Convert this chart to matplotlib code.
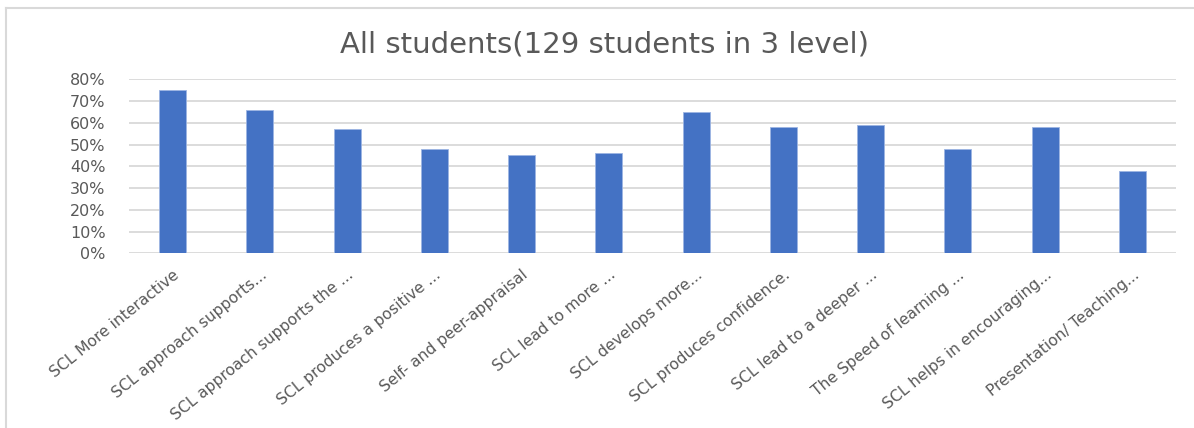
import numpy as np
import matplotlib
matplotlib.use('Agg')
import matplotlib.pyplot as plt
from matplotlib.ticker import PercentFormatter
from matplotlib.lines import Line2D

plt.rcParams['font.family'] = ['DejaVu Sans']

title = 'All students(129 students in 3 level)'

categories = [
    'SCL More interactive',
    'SCL approach supports...',
    'SCL approach supports the ...',
    'SCL produces a positive ...',
    'Self- and peer-appraisal',
    'SCL lead to more ...',
    'SCL develops more...',
    'SCL produces confidence.',
    'SCL lead to a deeper ...',
    'The Speed of learning ...',
    'SCL helps in encouraging...',
    'Presentation/ Teaching...',
]

# share of students
values = [0.75, 0.66, 0.57, 0.48, 0.45, 0.46, 0.65, 0.58, 0.59, 0.48, 0.58, 0.38]

yticks = [0, 0.1, 0.2, 0.3, 0.4, 0.5, 0.6, 0.7, 0.8]

BAR_COLOR = '#4472C4'
GRID_COLOR = '#d9d9d9'
TEXT_COLOR = '#595959'

W, H = 1194, 428
fig = plt.figure(figsize=(W / 100, H / 100), dpi=100)

# chart frame (top and left edges visible in the crop)
fig.add_artist(Line2D([6 / W, 6 / W], [0, 1 - 8 / H], transform=fig.transFigure,
                      color=GRID_COLOR, lw=1.5))
fig.add_artist(Line2D([6 / W, 1], [1 - 8 / H, 1 - 8 / H], transform=fig.transFigure,
                      color=GRID_COLOR, lw=1.5))

ax = fig.add_axes([129 / W, 1 - 253.3 / H, (1176 - 129) / W, (253.3 - 79.3) / H])

x = np.arange(len(categories))
ax.bar(x, values, width=0.31, color=BAR_COLOR, edgecolor='#9db5e3', linewidth=0.6, zorder=3)

ax.set_xlim(-0.5, len(categories) - 0.5)
ax.set_ylim(0, 0.8)
ax.set_yticks(yticks)
ax.yaxis.set_major_formatter(PercentFormatter(1.0, decimals=0))
ax.grid(axis='y', color=GRID_COLOR, linewidth=1.3, zorder=0)

for s in ax.spines.values():
    s.set_visible(False)
ax.tick_params(axis='both', length=0, colors=TEXT_COLOR)
ax.tick_params(axis='y', pad=17, labelsize=11.5)

ax.set_xticks(x)
ax.set_xticklabels(categories, rotation=39, ha='right', rotation_mode='anchor')
ax.tick_params(axis='x', pad=10, labelsize=11.2)

fig.text(605 / W, 1 - 44 / H, title, ha='center', va='center',
         fontsize=21, color=TEXT_COLOR)

fig.savefig('out.png', dpi=100)
